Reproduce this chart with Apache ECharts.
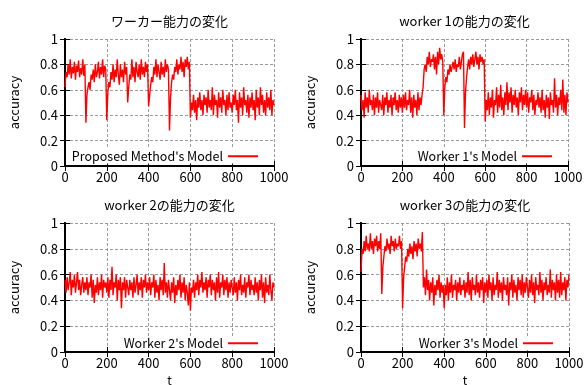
<!DOCTYPE html>
<html>
<head>
<meta charset="utf-8">
<script src="https://cdn.jsdelivr.net/npm/echarts@6/dist/echarts.min.js"></script>
<style>
  html, body { margin: 0; padding: 0; background: #fff; }
  #chart { width: 586px; height: 385px; }
</style>
</head>
<body>
<div id="chart"></div>
<script>
// t runs 0..1000, one value every 5 steps
const step = 5;

const proposed = [
  0.62, 0.74, 0.70, 0.80, 0.72, 0.84, 0.69, 0.78, 0.73, 0.82, 0.68, 0.79, 0.74, 0.83, 0.70, 0.77, 0.72, 0.84, 0.71, 0.80,
  0.34, 0.56, 0.62, 0.66, 0.60, 0.72, 0.68, 0.76, 0.66, 0.80, 0.70, 0.74, 0.82, 0.69, 0.78, 0.72, 0.84, 0.70, 0.79, 0.76,
  0.36, 0.58, 0.66, 0.62, 0.74, 0.68, 0.80, 0.66, 0.76, 0.70, 0.84, 0.72, 0.64, 0.80, 0.70, 0.76, 0.66, 0.82, 0.72, 0.78,
  0.50, 0.62, 0.72, 0.68, 0.84, 0.70, 0.78, 0.66, 0.82, 0.74, 0.70, 0.80, 0.68, 0.84, 0.72, 0.78, 0.70, 0.82, 0.74, 0.80,
  0.47, 0.56, 0.64, 0.70, 0.66, 0.78, 0.72, 0.84, 0.70, 0.80, 0.74, 0.68, 0.82, 0.72, 0.78, 0.70, 0.84, 0.74, 0.80, 0.76,
  0.28, 0.54, 0.66, 0.72, 0.68, 0.78, 0.74, 0.84, 0.72, 0.80, 0.76, 0.86, 0.74, 0.82, 0.70, 0.84, 0.78, 0.86, 0.76, 0.82,
  0.38, 0.50, 0.44, 0.56, 0.42, 0.52, 0.36, 0.54, 0.46, 0.58, 0.44, 0.52, 0.40, 0.56, 0.48, 0.54, 0.42, 0.60, 0.46, 0.52,
  0.44, 0.62, 0.40, 0.56, 0.48, 0.52, 0.38, 0.58, 0.46, 0.54, 0.42, 0.60, 0.48, 0.52, 0.40, 0.56, 0.44, 0.58, 0.46, 0.50,
  0.42, 0.56, 0.48, 0.60, 0.44, 0.52, 0.34, 0.58, 0.46, 0.54, 0.40, 0.62, 0.48, 0.52, 0.42, 0.56, 0.38, 0.54, 0.46, 0.58,
  0.44, 0.52, 0.36, 0.60, 0.46, 0.54, 0.40, 0.62, 0.48, 0.56, 0.42, 0.52, 0.40, 0.58, 0.46, 0.54, 0.44, 0.60, 0.40, 0.52,
  0.48
];

const worker1 = [
  0.56, 0.44, 0.52, 0.38, 0.58, 0.46, 0.54, 0.42, 0.60, 0.48, 0.52, 0.44, 0.56, 0.40, 0.54, 0.46, 0.58, 0.42, 0.52, 0.48,
  0.44, 0.56, 0.40, 0.54, 0.48, 0.58, 0.42, 0.52, 0.46, 0.56, 0.40, 0.54, 0.48, 0.58, 0.44, 0.52, 0.42, 0.56, 0.46, 0.54,
  0.42, 0.56, 0.46, 0.58, 0.44, 0.52, 0.48, 0.60, 0.42, 0.54, 0.38, 0.56, 0.46, 0.52, 0.40, 0.58, 0.44, 0.54, 0.48, 0.56,
  0.62, 0.76, 0.80, 0.74, 0.86, 0.80, 0.90, 0.78, 0.84, 0.82, 0.88, 0.76, 0.86, 0.72, 0.90, 0.80, 0.93, 0.84, 0.88, 0.82,
  0.40, 0.62, 0.70, 0.66, 0.76, 0.72, 0.80, 0.74, 0.78, 0.82, 0.76, 0.84, 0.74, 0.80, 0.78, 0.86, 0.76, 0.82, 0.88, 0.90,
  0.30, 0.58, 0.70, 0.78, 0.84, 0.76, 0.86, 0.80, 0.88, 0.78, 0.84, 0.90, 0.80, 0.86, 0.76, 0.88, 0.82, 0.86, 0.80, 0.84,
  0.35, 0.52, 0.44, 0.58, 0.40, 0.54, 0.46, 0.60, 0.38, 0.52, 0.48, 0.62, 0.42, 0.56, 0.46, 0.64, 0.44, 0.54, 0.40, 0.58,
  0.48, 0.66, 0.44, 0.58, 0.50, 0.62, 0.42, 0.56, 0.48, 0.60, 0.46, 0.54, 0.40, 0.58, 0.50, 0.62, 0.44, 0.56, 0.48, 0.60,
  0.46, 0.58, 0.42, 0.54, 0.50, 0.60, 0.44, 0.56, 0.40, 0.52, 0.48, 0.58, 0.46, 0.54, 0.42, 0.60, 0.44, 0.52, 0.38, 0.56,
  0.46, 0.54, 0.37, 0.58, 0.48, 0.52, 0.42, 0.69, 0.46, 0.56, 0.40, 0.54, 0.48, 0.60, 0.44, 0.68, 0.42, 0.56, 0.40, 0.58,
  0.50
];

const worker2 = [
  0.56, 0.46, 0.58, 0.48, 0.54, 0.62, 0.44, 0.56, 0.50, 0.60, 0.46, 0.54, 0.62, 0.48, 0.56, 0.44, 0.52, 0.58, 0.46, 0.54,
  0.48, 0.58, 0.44, 0.54, 0.50, 0.60, 0.42, 0.56, 0.38, 0.52, 0.46, 0.58, 0.44, 0.54, 0.48, 0.60, 0.42, 0.56, 0.50, 0.54,
  0.46, 0.58, 0.42, 0.56, 0.48, 0.66, 0.44, 0.54, 0.50, 0.60, 0.40, 0.56, 0.48, 0.58, 0.34, 0.54, 0.48, 0.58, 0.42, 0.56,
  0.50, 0.44, 0.56, 0.48, 0.54, 0.42, 0.58, 0.46, 0.52, 0.60, 0.44, 0.54, 0.48, 0.58, 0.42, 0.56, 0.50, 0.60, 0.46, 0.54,
  0.48, 0.58, 0.44, 0.54, 0.50, 0.60, 0.42, 0.56, 0.46, 0.52, 0.40, 0.58, 0.48, 0.56, 0.44, 0.69, 0.46, 0.54, 0.42, 0.56,
  0.48, 0.40, 0.54, 0.46, 0.58, 0.38, 0.52, 0.44, 0.56, 0.48, 0.60, 0.42, 0.54, 0.46, 0.58, 0.40, 0.52, 0.46, 0.36, 0.54,
  0.32, 0.50, 0.46, 0.56, 0.42, 0.54, 0.48, 0.60, 0.44, 0.56, 0.50, 0.62, 0.46, 0.54, 0.48, 0.58, 0.42, 0.56, 0.50, 0.60,
  0.44, 0.56, 0.48, 0.54, 0.40, 0.58, 0.46, 0.62, 0.42, 0.54, 0.50, 0.60, 0.44, 0.56, 0.48, 0.58, 0.42, 0.54, 0.46, 0.56,
  0.50, 0.44, 0.58, 0.46, 0.54, 0.40, 0.56, 0.48, 0.60, 0.44, 0.52, 0.46, 0.58, 0.42, 0.54, 0.50, 0.60, 0.44, 0.56, 0.48,
  0.52, 0.44, 0.58, 0.46, 0.54, 0.40, 0.56, 0.48, 0.60, 0.42, 0.54, 0.38, 0.58, 0.46, 0.52, 0.44, 0.60, 0.48, 0.40, 0.54,
  0.50
];

const worker3 = [
  0.62, 0.80, 0.76, 0.86, 0.78, 0.90, 0.80, 0.84, 0.78, 0.92, 0.80, 0.86, 0.76, 0.88, 0.82, 0.90, 0.78, 0.86, 0.80, 0.92,
  0.45, 0.66, 0.74, 0.82, 0.78, 0.88, 0.80, 0.84, 0.76, 0.90, 0.82, 0.86, 0.78, 0.88, 0.80, 0.84, 0.82, 0.90, 0.80, 0.86,
  0.34, 0.58, 0.66, 0.74, 0.70, 0.80, 0.74, 0.84, 0.76, 0.82, 0.72, 0.86, 0.78, 0.84, 0.74, 0.88, 0.80, 0.84, 0.78, 0.93,
  0.50, 0.58, 0.44, 0.64, 0.48, 0.56, 0.40, 0.54, 0.46, 0.58, 0.36, 0.52, 0.44, 0.56, 0.48, 0.60, 0.42, 0.54, 0.46, 0.52,
  0.34, 0.52, 0.44, 0.58, 0.40, 0.54, 0.46, 0.60, 0.42, 0.52, 0.48, 0.56, 0.40, 0.54, 0.46, 0.58, 0.44, 0.52, 0.48, 0.56,
  0.42, 0.54, 0.46, 0.62, 0.44, 0.56, 0.40, 0.58, 0.48, 0.52, 0.44, 0.60, 0.46, 0.54, 0.42, 0.56, 0.48, 0.58, 0.38, 0.54,
  0.46, 0.56, 0.42, 0.60, 0.48, 0.54, 0.40, 0.58, 0.44, 0.52, 0.48, 0.62, 0.42, 0.56, 0.46, 0.54, 0.40, 0.58, 0.48, 0.52,
  0.44, 0.58, 0.36, 0.54, 0.48, 0.60, 0.42, 0.56, 0.46, 0.52, 0.40, 0.58, 0.48, 0.56, 0.44, 0.60, 0.42, 0.54, 0.46, 0.58,
  0.50, 0.42, 0.56, 0.46, 0.60, 0.44, 0.54, 0.38, 0.58, 0.48, 0.52, 0.44, 0.62, 0.46, 0.56, 0.40, 0.54, 0.48, 0.58, 0.44,
  0.52, 0.46, 0.64, 0.42, 0.56, 0.48, 0.54, 0.40, 0.60, 0.46, 0.56, 0.42, 0.62, 0.44, 0.54, 0.48, 0.58, 0.40, 0.56, 0.50,
  0.60
];

const titles = ['ワーカー能力の変化', 'worker 1の能力の変化', 'worker 2の能力の変化', 'worker 3の能力の変化'];
const names = ["Proposed Method's Model", "Worker 1's Model", "Worker 2's Model", "Worker 3's Model"];
const seriesValues = [proposed, worker1, worker2, worker3];

const font = "'Noto Sans CJK JP', 'Noto Sans', sans-serif";

// plot boxes
const boxes = [
  { left: 65, top: 39, width: 209, height: 127, outerBoundsMode: 'none' },
  { left: 361, top: 39, width: 207, height: 127, outerBoundsMode: 'none' },
  { left: 65, top: 223, width: 209, height: 129, outerBoundsMode: 'none' },
  { left: 361, top: 223, width: 208, height: 129, outerBoundsMode: 'none' }
];

const xAxes = [], yAxes = [], series = [], legends = [], texts = [];
const lineStyle = { color: '#000', width: 2 };
const tick = { inside: true, length: 5, lineStyle: { color: '#000', width: 1 } };
const grid = { show: true, lineStyle: { color: '#9a9a9a', type: [3, 2], width: 1 } };

boxes.forEach((b, i) => {
  const bottomRow = i >= 2;
  xAxes.push({
    type: 'value', gridIndex: i, position: 'bottom', min: 0, max: 1000, interval: 200,
    axisLine: { lineStyle }, axisTick: tick, splitLine: grid,
    axisLabel: { color: '#000', fontSize: 13, fontFamily: font, margin: 5, formatter: v => String(v) },
    name: bottomRow ? 't' : '', nameLocation: 'middle', nameGap: 22,
    nameTextStyle: { color: '#000', fontSize: 12, fontFamily: font }
  });
  xAxes.push({
    type: 'value', gridIndex: i, position: 'top', min: 0, max: 1000, interval: 200,
    axisLine: { lineStyle }, axisTick: tick, splitLine: { show: false }, axisLabel: { show: false }
  });
  yAxes.push({
    type: 'value', gridIndex: i, position: 'left', min: 0, max: 1, interval: 0.2,
    axisLine: { lineStyle }, axisTick: tick, splitLine: grid,
    axisLabel: { color: '#000', fontSize: 13, fontFamily: font, margin: 7 },
    name: 'accuracy', nameLocation: 'middle', nameGap: 44,
    nameTextStyle: { color: '#000', fontSize: 13, fontFamily: font }
  });
  yAxes.push({
    type: 'value', gridIndex: i, position: 'right', min: 0, max: 1, interval: 0.2,
    axisLine: { lineStyle }, axisTick: tick, splitLine: { show: false }, axisLabel: { show: false }
  });
  series.push({
    type: 'line', name: names[i], xAxisIndex: 2 * i, yAxisIndex: 2 * i,
    data: seriesValues[i].map((v, k) => [k * step, v]),
    showSymbol: false, symbol: 'none', animation: false,
    lineStyle: { color: '#ff0000', width: 1.4 }, itemStyle: { color: '#ff0000' }
  });
  legends.push({
    data: [names[i]], align: 'right', orient: 'horizontal',
    right: 586 - (b.left + b.width - 13), top: b.top + b.height - (bottomRow ? 16 : 17),
    backgroundColor: '#fff', padding: [1, 3],
    icon: 'rect', itemWidth: 30, itemHeight: 2,
    textStyle: { color: '#000', fontSize: 12.5, fontFamily: font }
  });
  texts.push({
    type: 'text', x: b.left + b.width / 2, y: b.top - 18,
    style: { text: titles[i], fill: '#000', font: '13px ' + font, textAlign: 'center', textVerticalAlign: 'middle' }
  });
});

const chart = echarts.init(document.getElementById('chart'));
chart.setOption({
  animation: false,
  backgroundColor: '#fff',
  grid: boxes,
  xAxis: xAxes,
  yAxis: yAxes,
  legend: legends,
  graphic: texts,
  series: series
});
</script>
</body>
</html>
